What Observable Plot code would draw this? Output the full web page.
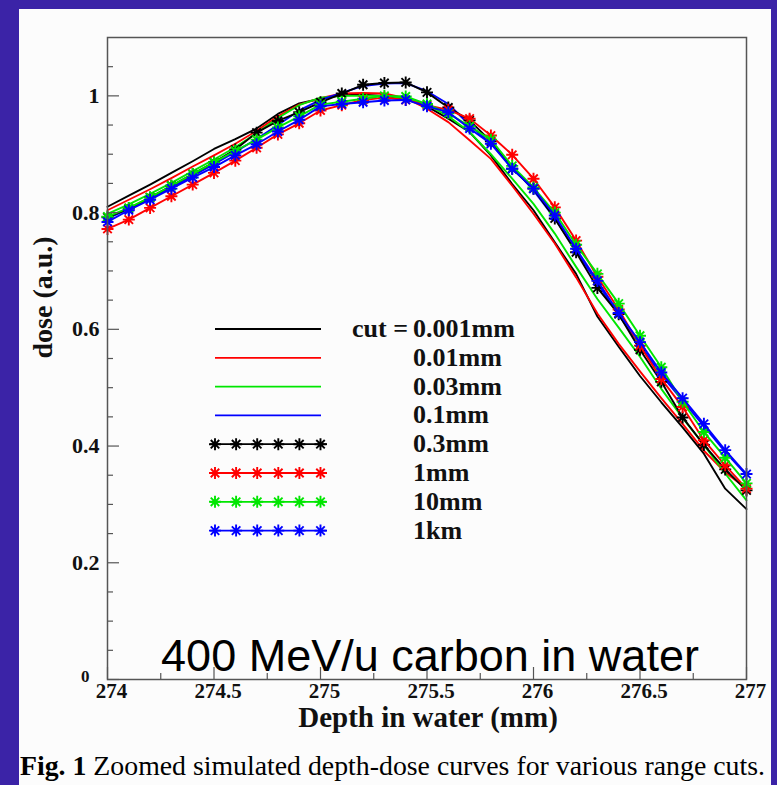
<!DOCTYPE html>
<html><head><meta charset="utf-8">
<script src="https://cdn.jsdelivr.net/npm/d3@7"></script>
<script src="https://cdn.jsdelivr.net/npm/@observablehq/plot@0.6"></script>
<style>
html,body{margin:0;padding:0;}
body{width:777px;height:785px;background:#3b23a7;position:relative;overflow:hidden;}
#panel{position:absolute;left:19px;top:9px;width:752px;height:776px;background:#fcfcfc;}
#chart{position:absolute;left:0;top:0;}
#legend{position:absolute;left:0;top:0;}
#caption{position:absolute;left:20px;top:752px;font-family:"Liberation Serif";font-size:27.8px;line-height:1;white-space:nowrap;color:#000;}
</style></head><body>
<div id="panel"></div>
<div id="chart"></div>
<svg id="legend" width="777" height="785"></svg>
<div id="caption"><b>Fig. 1</b> Zoomed simulated depth-dose curves for various range cuts.</div>
<script>
// ---- data ----
const depth = [274.0,274.1,274.2,274.3,274.4,274.5,274.6,274.7,274.8,274.9,275.0,275.1,275.2,275.3,275.4,275.5,275.6,275.7,275.8,275.9,276.0,276.1,276.2,276.3,276.4,276.5,276.6,276.7,276.8,276.9,277.0];
const cut0001 = [0.810,0.829,0.848,0.868,0.888,0.909,0.926,0.944,0.969,0.987,0.995,1.001,1.002,1.000,0.995,0.982,0.961,0.938,0.898,0.849,0.804,0.749,0.695,0.622,0.570,0.520,0.475,0.432,0.387,0.327,0.292];
const cut001  = [0.804,0.822,0.840,0.859,0.879,0.898,0.918,0.940,0.965,0.985,0.996,1.004,1.005,1.004,0.996,0.978,0.955,0.924,0.892,0.846,0.798,0.747,0.689,0.627,0.575,0.528,0.482,0.438,0.392,0.355,0.327];
const cut003  = [0.798,0.814,0.832,0.851,0.871,0.891,0.912,0.936,0.962,0.984,0.997,1.000,1.000,1.000,0.996,0.985,0.965,0.938,0.900,0.858,0.815,0.764,0.707,0.652,0.603,0.553,0.498,0.448,0.402,0.353,0.307];
const cut01   = [0.790,0.806,0.824,0.843,0.863,0.883,0.904,0.926,0.950,0.975,0.993,1.005,1.017,1.021,1.022,1.008,0.986,0.950,0.918,0.878,0.838,0.790,0.735,0.679,0.624,0.573,0.522,0.478,0.434,0.390,0.350];
const cut03   = [0.792,0.807,0.826,0.846,0.866,0.886,0.908,0.937,0.957,0.972,0.989,1.004,1.019,1.022,1.023,1.006,0.980,0.958,0.922,0.875,0.841,0.790,0.732,0.671,0.626,0.565,0.510,0.449,0.402,0.360,0.324];
const cut1    = [0.772,0.788,0.808,0.828,0.848,0.868,0.889,0.911,0.934,0.953,0.975,0.984,0.993,0.997,0.993,0.984,0.976,0.961,0.932,0.899,0.858,0.809,0.752,0.690,0.634,0.572,0.515,0.467,0.410,0.367,0.327];
const cut10   = [0.793,0.808,0.826,0.846,0.866,0.886,0.906,0.925,0.946,0.965,0.985,0.990,0.995,1.000,0.999,0.986,0.970,0.948,0.925,0.880,0.843,0.800,0.745,0.695,0.644,0.589,0.535,0.476,0.424,0.380,0.336];
const cut1km  = [0.784,0.804,0.822,0.841,0.860,0.878,0.898,0.917,0.939,0.959,0.982,0.986,0.989,0.992,0.993,0.982,0.972,0.944,0.918,0.875,0.841,0.795,0.738,0.683,0.628,0.578,0.526,0.482,0.438,0.393,0.352];

const seriesNames = ["0.001mm","0.01mm","0.03mm","0.1mm","0.3mm","1mm","10mm","1km"];
const seriesColors = ["#000000","#ff0000","#00e600","#0000ff","#000000","#ff0000","#00e600","#0000ff"];
const seriesMarked = [false,false,false,false,true,true,true,true];
const seriesValues = [cut0001,cut001,cut003,cut01,cut03,cut1,cut10,cut1km];

const xMajor = [274,274.5,275,275.5,276,276.5,277];
const xMajorLabels = ["274","274.5","275","275.5","276","276.5","277"];
const xMinor = [274.25,274.75,275.25,275.75,276.25,276.75];
const yMajor = [0,0.2,0.4,0.6,0.8,1];
const yMajorLabels = ["0","0.2","0.4","0.6","0.8","1"];
const yMinor = [0.05,0.1,0.15,0.25,0.3,0.35,0.45,0.5,0.55,0.65,0.7,0.75,0.85,0.9,0.95,1.05];
const xTitle = "Depth in water (mm)";
const yTitle = "dose (a.u.)";
const annotation = "400 MeV/u carbon in water";
const legendPrefix = "cut =";

// ---- chart ----
const rows = seriesNames.flatMap((s,k) => depth.map((d,i) => ({depth:d, dose:seriesValues[k][i], k})));
const star = {draw(ctx, size){ const r = Math.sqrt(size/Math.PI); const d = r*Math.SQRT1_2;
  ctx.moveTo(-r,0); ctx.lineTo(r,0); ctx.moveTo(0,-r); ctx.lineTo(0,r);
  ctx.moveTo(-d,-d); ctx.lineTo(d,d); ctx.moveTo(-d,d); ctx.lineTo(d,-d);}};

const W = 777, H = 745, mL = 107, mR = 31, mT = 37, mB = 66;
const fw = W - mL - mR, fh = H - mT - mB;
const serif = "Liberation Serif";
const curveMarks = [];
seriesNames.forEach((s,k) => {
  const d = rows.filter(r => r.k === k);
  curveMarks.push(Plot.line(d, {x:"depth", y:"dose", stroke:seriesColors[k], strokeWidth:1.9}));
  if (seriesMarked[k]) curveMarks.push(Plot.dot(d, {x:"depth", y:"dose", symbol:star, r:6, stroke:seriesColors[k], strokeWidth:1.9, fill:"none"}));
});
const yLab = yMajor.map((v,i) => ({v, t:yMajorLabels[i]}));

const chart = Plot.plot({
  width: W, height: H, marginLeft: mL, marginRight: mR, marginTop: mT, marginBottom: mB,
  x: {domain:[274,277], axis:null},
  y: {domain:[0,1.1], axis:null},
  style: {background:"transparent", fontFamily: serif, overflow:"visible"},
  marks: [
    ...curveMarks,
    Plot.ruleX(xMajor, {x:d=>d, insetTop: fh-12, stroke:"#555", strokeWidth:1.2}),
    Plot.ruleX(xMinor, {x:d=>d, insetTop: fh-6, stroke:"#555", strokeWidth:1.2}),
    Plot.ruleY(yMajor, {y:d=>d, insetRight: fw-12, stroke:"#555", strokeWidth:1.2}),
    Plot.ruleY(yMinor, {y:d=>d, insetRight: fw-6, stroke:"#555", strokeWidth:1.2}),
    Plot.frame({stroke:"#555", strokeWidth:1.5}),
    Plot.text(xMajor, {x:d=>d, text:(d,i)=>xMajorLabels[i], frameAnchor:"bottom", dy:18, dx:4, fontSize:21, fontWeight:"bold", fill:"#111"}),
    Plot.text(yLab.filter(d => d.v !== 0), {y:"v", text:"t", frameAnchor:"left", dx:-8, textAnchor:"end", fontSize:22, fontWeight:"bold", fill:"#111"}),
    Plot.text(yLab.filter(d => d.v === 0), {y:"v", text:"t", frameAnchor:"left", dx:-18, dy:-3, textAnchor:"end", fontSize:17, fontWeight:"bold", fill:"#111"}),
    Plot.text([xTitle], {text:d=>d, frameAnchor:"bottom", dy:47, dx:1, fontSize:29, fontWeight:"bold", fill:"#111"}),
    Plot.text([yTitle], {text:d=>d, frameAnchor:"left", dx:-64, rotate:-90, fontSize:28, fontWeight:"bold", fill:"#111"}),
    Plot.text([annotation], {text:d=>d, frameAnchor:"bottom", dy:-9, dx:3, fontSize:45, fontFamily:"Liberation Sans", fill:"#000"})
  ]
});
document.getElementById("chart").appendChild(chart);

// ---- legend ----
const lg = d3.select("#legend");
const rowY0 = 329, rowStep = 28.8;
const sym = d3.symbol(star, 36*Math.PI);
seriesNames.forEach((s,k) => {
  const y = rowY0 + k*rowStep;
  const g = lg.append("g");
  if (!seriesMarked[k]) {
    g.append("line").attr("x1",215).attr("x2",321).attr("y1",y).attr("y2",y).attr("stroke",seriesColors[k]).attr("stroke-width",1.8);
  } else {
    g.append("line").attr("x1",210).attr("x2",327).attr("y1",y).attr("y2",y).attr("stroke",seriesColors[k]).attr("stroke-width",1.8);
    for (let j=0;j<6;j++) g.append("path").attr("d",sym()).attr("transform",`translate(${215+j*21.1},${y})`).attr("stroke",seriesColors[k]).attr("stroke-width",1.9).attr("fill","none");
  }
  g.append("text").attr("x",413).attr("y",y+8).attr("font-family",serif).attr("font-weight","bold").attr("font-size",26).attr("fill","#111").text(s);
  if (k===0) g.append("text").attr("x",408).attr("y",y+8).attr("text-anchor","end").attr("font-family",serif).attr("font-weight","bold").attr("font-size",26).attr("fill","#111").text(legendPrefix);
});
</script>
</body></html>
